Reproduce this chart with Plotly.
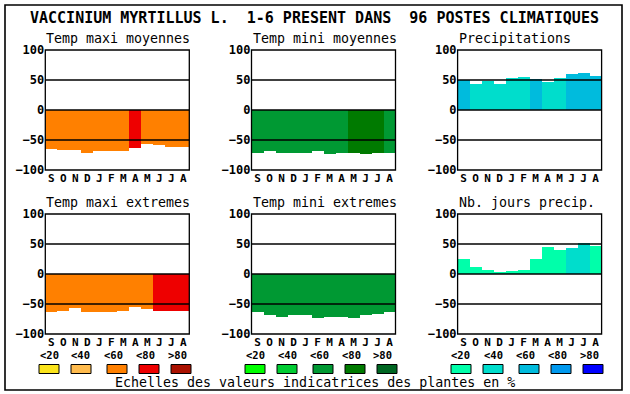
import plotly.graph_objects as go

W, H = 630, 394

title = "VACCINIUM MYRTILLUS L.\u00a0\u00a01-6 PRESENT DANS\u00a0\u00a096 POSTES CLIMATIQUES"
months = ["S", "O", "N", "D", "J", "F", "M", "A", "M", "J", "J", "A"]
y_ticks = [-100, -50, 0, 50, 100]
legend_labels = ["<20", "<40", "<60", "<80", ">80"]
footer = "Echelles des valeurs indicatrices des plantes en %"

panel_titles = ["Temp maxi moyennes", "Temp mini moyennes", "Precipitations",
                "Temp maxi extremes", "Temp mini extremes", "Nb. jours precip."]

temp_maxi_moy = [-65, -67, -67, -72, -68, -68, -68, -63, -57, -59, -61, -61]
temp_mini_moy = [-71, -68, -71, -71, -71, -68, -73, -71, -71, -73, -71, -71]
precipitations = [50, 43, 49, 44, 54, 55, 52, 46, 54, 60, 62, 57]
temp_maxi_ext = [-63, -61, -57, -63, -64, -64, -61, -55, -58, -61, -61, -61]
temp_mini_ext = [-63, -68, -71, -68, -68, -73, -71, -71, -73, -68, -66, -63]
nb_jours_precip = [25, 12, 7, 2, 5, 7, 25, 45, 40, 43, 52, 47]

# indicator class (0:<20 .. 4:>80) of each month
cls_maxi_moy = [2, 2, 2, 2, 2, 2, 2, 3, 2, 2, 2, 2]
cls_mini_moy = [2, 2, 2, 2, 2, 2, 2, 2, 3, 3, 3, 2]
cls_precip = [2, 1, 1, 1, 1, 1, 2, 1, 1, 2, 2, 2]
cls_maxi_ext = [2, 2, 2, 2, 2, 2, 2, 2, 2, 3, 3, 3]
cls_mini_ext = [2, 2, 2, 2, 2, 2, 2, 2, 2, 2, 2, 2]
cls_nb_jours = [0, 0, 0, 0, 0, 0, 0, 0, 0, 1, 1, 0]

pal_red = ["#FBE41B", "#FFBB4D", "#FF8000", "#EE0000", "#AA1100"]
pal_green = ["#00FF00", "#00CC33", "#009933", "#007A00", "#006622"]
pal_blue = ["#00FFAA", "#00DDCC", "#00BBDD", "#0099EE", "#0000FF"]

panels = [
    (temp_maxi_moy, cls_maxi_moy, pal_red),
    (temp_mini_moy, cls_mini_moy, pal_green),
    (precipitations, cls_precip, pal_blue),
    (temp_maxi_ext, cls_maxi_ext, pal_red),
    (temp_mini_ext, cls_mini_ext, pal_green),
    (nb_jours_precip, cls_nb_jours, pal_blue),
]

col_left = [45.3, 251.5, 457.6]
pw = 144
row_top = [50, 214]
ph = 120

def px(x):
    return x / W

def py(y):
    return 1 - y / H

MONO = "DejaVu Sans Mono"
fig = go.Figure()
layout = {}
shapes = []
annotations = []

for i, (vals, cls, pal) in enumerate(panels):
    r, c = divmod(i, 3)
    n = i + 1
    xa = "xaxis" if n == 1 else f"xaxis{n}"
    ya = "yaxis" if n == 1 else f"yaxis{n}"
    xr = "x" if n == 1 else f"x{n}"
    yr = "y" if n == 1 else f"y{n}"
    x0, x1 = col_left[c], col_left[c] + pw
    y0, y1 = row_top[r], row_top[r] + ph
    fig.add_trace(go.Bar(
        x=list(range(12)), y=vals, base=0, width=1,
        marker=dict(color=[pal[k] for k in cls], line=dict(width=0)),
        xaxis=xr, yaxis=yr, showlegend=False, hoverinfo="skip",
    ))
    layout[xa] = dict(domain=[px(x0), px(x1)], range=[-0.5, 11.5], anchor=yr,
                      tickvals=list(range(12)), ticktext=months, showgrid=False,
                      zeroline=False, showline=False, ticks="", fixedrange=True,
                      automargin=False,
                      tickfont=dict(family=MONO, size=11, color="#000", weight="bold"))
    layout[ya] = dict(domain=[py(y1), py(y0)], range=[-100, 100], anchor=xr,
                      tickvals=y_ticks, showgrid=False, zeroline=False,
                      showline=False, ticks="", fixedrange=True, automargin=False,
                      tickfont=dict(family=MONO, size=12, color="#000", weight="bold"))
    for v in (50, 0, -50):
        shapes.append(dict(type="line", xref=f"{xr} domain", yref=yr,
                           x0=0, x1=1, y0=v, y1=v, layer="above",
                           line=dict(color="#000", width=1.3)))
    shapes.append(dict(type="rect", xref=f"{xr} domain", yref=f"{yr} domain",
                       x0=0, x1=1, y0=0, y1=1, layer="above",
                       line=dict(color="#000", width=1.3)))
    annotations.append(dict(text=panel_titles[i], xref="paper", yref="paper",
                            x=px(x0 - 1), y=py(y0 - 11.5), xanchor="left", yanchor="middle",
                            showarrow=False, font=dict(family=MONO, size=13.3, color="#000")))

# legend scales
sw_off = [0, 32, 68, 100, 132]
lab_off = [10, 42, 74, 106, 138]
for base, pal in ((39, pal_red), (245, pal_green), (451, pal_blue)):
    for k in range(5):
        sx = base + sw_off[k]
        shapes.append(dict(type="rect", xref="paper", yref="paper",
                           x0=px(sx), x1=px(sx + 20), y0=py(373.5), y1=py(364.5),
                           fillcolor=pal[k], line=dict(color="#000", width=1)))
        annotations.append(dict(text=legend_labels[k], xref="paper", yref="paper",
                                x=px(base + lab_off[k]), y=py(355), xanchor="center",
                                yanchor="middle", showarrow=False,
                                font=dict(family=MONO, size=10.5, color="#000", weight="bold")))

annotations.append(dict(text=title, xref="paper", yref="paper", x=px(314), y=py(18),
                        xanchor="center", yanchor="middle", showarrow=False,
                        font=dict(family=MONO, size=15, color="#000", weight="bold")))
annotations.append(dict(text=footer, xref="paper", yref="paper", x=px(314.5), y=py(382),
                        xanchor="center", yanchor="middle", showarrow=False,
                        font=dict(family=MONO, size=13.3, color="#000")))

# outer frame
shapes.append(dict(type="rect", xref="paper", yref="paper",
                   x0=px(5), x1=px(622), y0=py(390), y1=py(5),
                   line=dict(color="#000", width=1.6)))

fig.update_layout(width=W, height=H, margin=dict(l=0, r=0, t=0, b=0, pad=0, autoexpand=False),
                  paper_bgcolor="#fff", plot_bgcolor="#fff", bargap=0,
                  shapes=shapes, annotations=annotations, **layout)

fig.write_html("out.html", config={"displayModeBar": False})

# pin the figure to the window's origin and clip the page to the figure size
css = ("<style>html,body{margin:0;padding:0;overflow:hidden;width:630px;height:394px;}"
       ".plotly-graph-div{position:absolute;left:0;top:0;}</style>")
with open("out.html", encoding="utf-8") as f:
    html = f.read()
html = html.replace("<head>", "<head>" + css, 1)
with open("out.html", "w", encoding="utf-8") as f:
    f.write(html)
